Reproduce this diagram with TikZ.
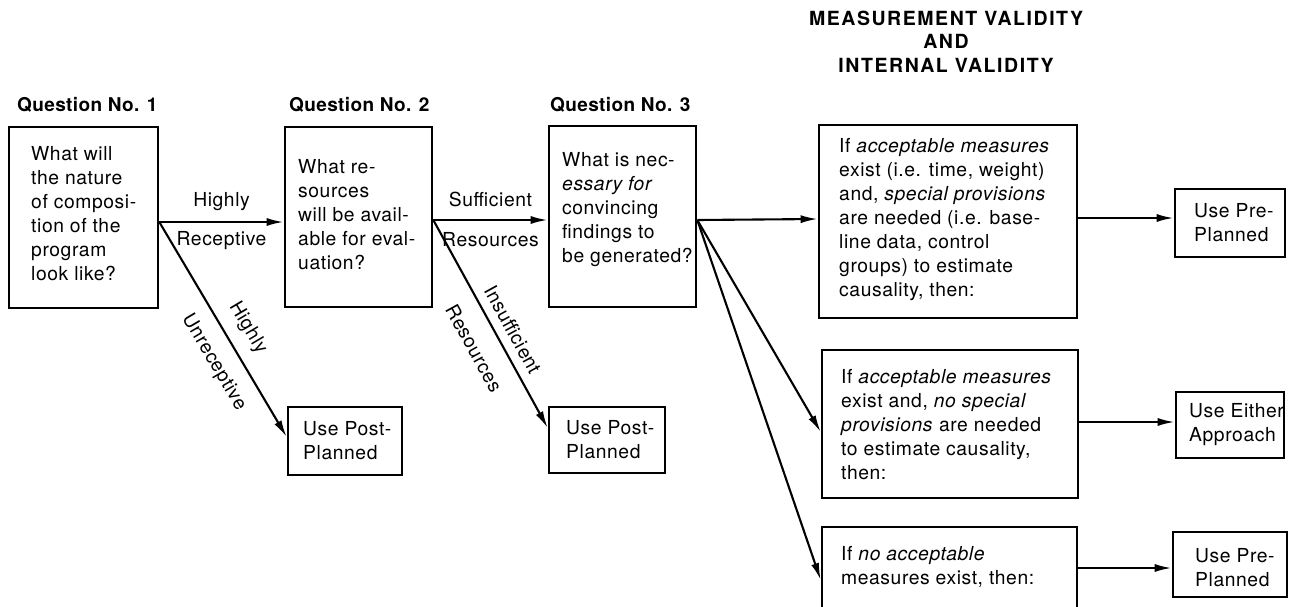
\documentclass[tikz,border=0pt]{standalone}
\usepackage{fontspec}
\setmainfont{TeX Gyre Heros}
\newfontfamily\bodyf[LetterSpace=3]{TeX Gyre Heros}
\newfontfamily\headf[LetterSpace=2]{TeX Gyre Heros}
\newfontfamily\titlef[LetterSpace=8]{TeX Gyre Heros}
\usetikzlibrary{arrows.meta}
\begin{document}
\begin{tikzpicture}[x=1pt,y=-1pt,
  box/.style={draw, line width=2.6pt, inner sep=0pt},
  txt/.style={align=left, inner sep=0pt, anchor=west, font=\bodyf\fontsize{19.3}{24}\selectfont},
  head/.style={inner sep=0pt, anchor=west, font=\headf\bfseries\fontsize{19}{23}\selectfont},
  lbl/.style={inner sep=0pt, font=\bodyf\fontsize{19.3}{23}\selectfont},
  arr/.style={line width=2.1pt, -{Latex[length=17pt,width=8pt]}}]
\useasboundingbox (0,0) rectangle (1297,606);
\clip (0,0) rectangle (1297,606);

% title and headings
\node[align=center, inner sep=0pt, font=\titlef\bfseries\fontsize{19.5}{23.5}\selectfont] (title) at (946,41.5)
  {MEASUREMENT VALIDITY\\AND\\INTERNAL VALIDITY};
\node[head] (h1) at (17,105) {Question No. 1};
\node[head] (h2) at (289,105) {Question No. 2};
\node[head] (h3) at (550,105) {Question No. 3};

% question boxes
\node[box, minimum width=149pt, minimum height=181pt] (q1) at (83.5,217.5) {};
\node[txt] (q1t) at (31,213.5) {What will\\the nature\\of composi-\\tion of the\\program\\look like?};
\node[box, minimum width=147pt, minimum height=180pt] (q2) at (358.5,217) {};
\node[txt] (q2t) at (298,214.5) {What re-\\sources\\will be avail-\\able for eval-\\uation?};
\node[box, minimum width=147pt, minimum height=181pt] (q3) at (622.5,216.5) {};
\node[txt] (q3t) at (562,210) {What is nec-\\\textit{essary for}\\convincing\\findings to\\be generated?};

% post-planned boxes
\node[box, minimum width=114pt, minimum height=68pt] (p1) at (345,441) {};
\node[txt] (p1t) at (303,440.5) {Use Post-\\Planned};
\node[box, minimum width=116pt, minimum height=66pt] (p2) at (607,440) {};
\node[txt] (p2t) at (566,439.5) {Use Post-\\Planned};

% validity boxes
\node[box, minimum width=258pt, minimum height=193pt] (va) at (948,221.5) {};
\node[txt] (vat) at (839,220) {If \textit{acceptable measures}\\exist (i.e. time, weight)\\and, \textit{special provisions}\\are needed (i.e. base-\\line data, control\\groups) to estimate\\causality, then:};
\node[box, minimum width=256pt, minimum height=148pt] (vb) at (950,424) {};
\node[txt] (vbt) at (841,425) {If \textit{acceptable measures}\\exist and, \textit{no special}\\\textit{provisions} are needed\\to estimate causality,\\then:};
\node[box, minimum width=255pt, minimum height=133pt] (vc) at (949.5,593.5) {};
\node[txt] (vct) at (841,566.5) {If \textit{no acceptable}\\measures exist, then:};

% result boxes
\node[box, minimum width=110pt, minimum height=68pt] (ra) at (1230,223) {};
\node[txt] (rat) at (1194,222.5) {Use Pre-\\Planned};
\node[box, minimum width=108pt, minimum height=66pt] (rb) at (1230,425) {};
\node[txt] (rbt) at (1189,425) {Use Either\\Approach};
\node[box, minimum width=114pt, minimum height=65pt] (rc) at (1230,564.5) {};
\node[txt] (rct) at (1195,568) {Use Pre-\\Planned};

% connector end points
\coordinate (q1o) at (q1.east |- 0,222);
\coordinate (q2i) at (q2.west |- 0,222);
\coordinate (q2o) at (q2.east |- 0,220);
\coordinate (q3i) at (q3.west |- 0,220);
\coordinate (q3o) at (q3.east |- 0,220);
\coordinate (p1i) at (p1.west |- 0,437);
\coordinate (p2i) at (p2.west |- 0,428);
\coordinate (vai) at (va.west |- 0,219);
\coordinate (vbi) at (vb.west |- 0,432);
\coordinate (vci) at (vc.west |- 0,580);
\coordinate (vao) at (va.east |- 0,218);
\coordinate (rai) at (ra.west |- 0,218);
\coordinate (vbo) at (vb.east |- 0,422);
\coordinate (rbi) at (rb.west |- 0,422);
\coordinate (vco) at (vc.east |- 0,568);
\coordinate (rci) at (rc.west |- 0,568);

% connectors
\draw[arr] (q1o) -- node[lbl, above=10pt] {Highly} node[lbl, below=8pt] {Receptive} (q2i);
\draw[arr] (q1o) -- node[lbl, sloped, above=12pt, pos=0.545] {Highly} node[lbl, sloped, below=14.5pt, pos=0.594] {Unreceptive} (p1i);
\draw[arr] (q2o) -- node[lbl, above=12pt] {Sufficient} node[lbl, below=11pt] {Resources} (q3i);
\draw[arr] (q2o) -- node[lbl, sloped, above=8.5pt, pos=0.566] {Insufficient} node[lbl, sloped, below=18pt, pos=0.557] {Resources} (p2i);
\draw[arr] (q3o) -- (vai);
\draw[arr] (q3o) -- (vbi);
\draw[arr] (q3o) -- (vci);
\draw[arr] (vao) -- (rai);
\draw[arr] (vbo) -- (rbi);
\draw[arr] (vco) -- (rci);
\end{tikzpicture}
\end{document}
